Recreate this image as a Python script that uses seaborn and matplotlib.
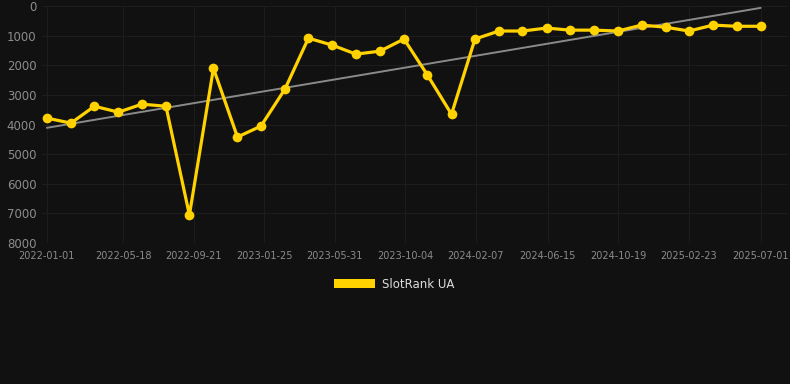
import numpy as np
import pandas as pd
import matplotlib.pyplot as plt
import matplotlib.dates as mdates
from matplotlib.patches import Patch
import seaborn as sns

dates = [
    "2022-01-01", "2022-02-13", "2022-03-27", "2022-05-09", "2022-06-20",
    "2022-08-02", "2022-09-13", "2022-10-26", "2022-12-08", "2023-01-19",
    "2023-03-03", "2023-04-14", "2023-05-27", "2023-07-08", "2023-08-20",
    "2023-10-02", "2023-11-13", "2023-12-26", "2024-02-06", "2024-03-20",
    "2024-05-01", "2024-06-13", "2024-07-25", "2024-09-06", "2024-10-19",
    "2024-11-30", "2025-01-12", "2025-02-23", "2025-04-07", "2025-05-19",
    "2025-07-01",
]
ranks = [
    3780, 3950, 3380, 3580, 3310, 3380, 7050, 2100, 4420, 4050,
    2800, 1080, 1320, 1620, 1520, 1110, 2330, 3650, 1110, 840,
    840, 740, 810, 810, 840, 640, 710, 840, 640, 680, 680,
]
tick_dates = [
    "2022-01-01", "2022-05-18", "2022-09-21", "2023-01-25", "2023-05-31",
    "2023-10-04", "2024-02-07", "2024-06-15", "2024-10-19", "2025-02-23",
    "2025-07-01",
]
y_ticks = [0, 1000, 2000, 3000, 4000, 5000, 6000, 7000, 8000]

df = pd.DataFrame({"date": pd.to_datetime(dates), "rank": ranks})

# linear trend over the series
xnum = mdates.date2num(df["date"])
slope, intercept = np.polyfit(xnum, df["rank"], 1)
trend = pd.DataFrame({"date": df["date"].iloc[[0, -1]],
                      "rank": slope * xnum[[0, -1]] + intercept})

bg = "#111111"
sns.set_theme(style="dark")
plt.rcParams["font.family"] = ["DejaVu Sans"]

fig = plt.figure(figsize=(7.9, 3.84), dpi=100, facecolor=bg)
ax = fig.add_axes([0.053, 0.367, 0.943, 0.617])
ax.set_facecolor(bg)

sns.lineplot(data=trend, x="date", y="rank", ax=ax, color="#8a8a8a", linewidth=1.4)
sns.lineplot(data=df, x="date", y="rank", ax=ax, color="#FFD200", linewidth=2.3,
             marker="o", markersize=7, markeredgewidth=0)

ax.set_xlim(pd.Timestamp("2021-12-23"), pd.Timestamp("2025-08-17"))
ax.set_ylim(8000, 0)
ax.set_yticks(y_ticks)
ax.set_xticks(pd.to_datetime(tick_dates))
ax.xaxis.set_major_formatter(mdates.DateFormatter("%Y-%m-%d"))

ax.grid(True, color="#1d1d1d", linewidth=0.8)
for s in ax.spines.values():
    s.set_visible(False)
ax.tick_params(axis="x", colors="#8c8c8c", labelsize=7, length=0, pad=6)
ax.tick_params(axis="y", colors="#8c8c8c", labelsize=8.5, length=0, pad=4)
ax.set_xlabel("")
ax.set_ylabel("")

fig.legend(handles=[Patch(facecolor="#FFD200", edgecolor="none", label="SlotRank UA")],
           loc="center", bbox_to_anchor=(0.499, 0.26), frameon=False,
           labelcolor="#dddddd", fontsize=8.5, handlelength=3.4, handleheight=0.9,
           handletextpad=0.6)

fig.savefig("out.png", dpi=100, facecolor=bg)
